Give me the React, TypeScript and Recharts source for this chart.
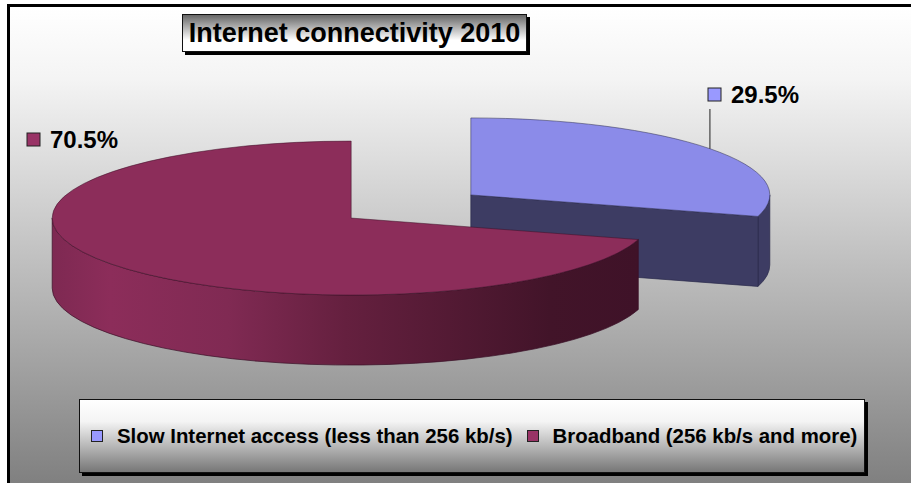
import { PieChart, Pie, Legend } from 'recharts';

const CATEGORIES = ['Slow Internet access (less than 256 kb/s)', 'Broadband (256 kb/s and more)'];
const SHARES = [29.5, 70.5];

const TOP_COLORS = ['#8b8be9', '#8c2d5a'];
const KEY_COLORS = ['#9999ff', '#993366'];
const WALL_FILLS = ['#3d3c63', 'url(#wallShade)'];
const EDGE_COLORS = ['#2a2a4a', '#3a1026'];

const FONT = '"Liberation Sans", Arial, sans-serif';

// pie geometry: a flat disc seen at an angle
const RADIUS = 299;
const TILT = 77 / 299;
const DEPTH = 70;
const EXPLODE = 74.8;

const LABEL_SPOTS = [
  { x: 708, y: 88, leaderFromY: 109 },
  { x: 27, y: 133, leaderFromY: null },
];

const pieData = CATEGORIES.map((name, i) => ({ name, value: SHARES[i], fill: KEY_COLORS[i] }));

const rad = (deg: number) => (deg * Math.PI) / 180;

function explodedCentre(cx: number, cy: number, midAngle: number) {
  return {
    x: cx + EXPLODE * Math.cos(rad(midAngle)),
    y: cy - EXPLODE * Math.sin(rad(midAngle)) * TILT,
  };
}

function rimPoint(c: { x: number; y: number }, angle: number) {
  return {
    x: c.x + RADIUS * Math.cos(rad(angle)),
    y: c.y - RADIUS * TILT * Math.sin(rad(angle)),
  };
}

function Slice(props: any) {
  const { cx, cy, startAngle, endAngle, midAngle, name } = props;
  const i = CATEGORIES.indexOf(name);
  const c = explodedCentre(cx, cy, midAngle);
  const rx = RADIUS;
  const ry = RADIUS * TILT;
  const from = rimPoint(c, startAngle);
  const to = rimPoint(c, endAngle);
  const large = startAngle - endAngle > 180 ? 1 : 0;

  // only the part of the rim that faces the viewer gets a wall
  const wallHi = Math.min(startAngle, 0);
  const wallLo = Math.max(endAngle, -180);
  let wall = null;
  if (wallLo < wallHi) {
    const a = rimPoint(c, wallHi);
    const b = rimPoint(c, wallLo);
    wall =
      `M${a.x},${a.y} A${rx},${ry} 0 0 1 ${b.x},${b.y} ` +
      `L${b.x},${b.y + DEPTH} A${rx},${ry} 0 0 0 ${a.x},${a.y + DEPTH} Z`;
  }

  const showCut = Math.cos(rad(endAngle)) > 1e-6;
  const cut = showCut
    ? `M${c.x},${c.y} L${to.x},${to.y} L${to.x},${to.y + DEPTH} L${c.x},${c.y + DEPTH} Z`
    : null;

  return (
    <g>
      {wall && <path d={wall} fill={WALL_FILLS[i]} stroke={EDGE_COLORS[i]} strokeWidth={0.7} />}
      {cut && <path d={cut} fill={WALL_FILLS[i]} stroke={EDGE_COLORS[i]} strokeWidth={0.7} />}
      <path
        d={`M${c.x},${c.y} L${from.x},${from.y} A${rx},${ry} 0 ${large} 1 ${to.x},${to.y} Z`}
        fill={TOP_COLORS[i]}
        stroke={EDGE_COLORS[i]}
        strokeWidth={0.5}
      />
    </g>
  );
}

function SliceLabel(props: any) {
  const { cx, cy, midAngle, value, index } = props;
  const spot = LABEL_SPOTS[index];
  const rim = rimPoint(explodedCentre(cx, cy, midAngle), midAngle);
  return (
    <g>
      {spot.leaderFromY !== null && (
        <line x1={rim.x} y1={spot.leaderFromY} x2={rim.x} y2={rim.y} stroke="#222" strokeWidth={1} />
      )}
      <rect x={spot.x} y={spot.y} width={13} height={13} fill={KEY_COLORS[index]} stroke="#222" strokeWidth={1} />
      <text
        x={spot.x + 23}
        y={spot.y + 15}
        fontFamily={FONT}
        fontWeight="bold"
        fontSize={24}
        fill="#000"
      >
        {`${value.toFixed(1)}%`}
      </text>
    </g>
  );
}

function LegendBox({ payload }: any) {
  return (
    <div
      style={{
        boxSizing: 'border-box',
        width: 786,
        height: 74,
        border: '1px solid #111',
        boxShadow: '3px 3px 0 #000',
        background: 'linear-gradient(#ffffff 0%, #f4f4f4 30%, #777777 100%)',
        display: 'flex',
        alignItems: 'center',
        paddingLeft: 11,
        fontFamily: FONT,
        fontWeight: 'bold',
        fontSize: 20.4,
        color: '#000',
        whiteSpace: 'nowrap',
      }}
    >
      {(payload ?? []).map((item: any, i: number) => (
        <span key={item.value} style={{ display: 'flex', alignItems: 'center', marginRight: 14 }}>
          <span
            style={{
              boxSizing: 'border-box',
              width: 12,
              height: 12,
              background: KEY_COLORS[i],
              border: '1px solid #222',
              marginRight: 14,
            }}
          />
          {item.value}
        </span>
      ))}
    </div>
  );
}

export default function App() {
  return (
    <div style={{ position: 'absolute', left: 0, top: 0, width: 911, height: 483, background: '#fff', overflow: 'hidden' }}>
      <div
        style={{
          position: 'absolute',
          left: 7,
          top: 4,
          right: 0,
          bottom: 0,
          borderTop: '3px solid #000',
          borderLeft: '3px solid #000',
          background: 'linear-gradient(#ffffff 0%, #f4f4f4 15%, #808080 100%)',
        }}
      />
      <PieChart width={911} height={483} margin={{ top: 0, right: 0, bottom: 0, left: 0 }} style={{ position: 'absolute', left: 0, top: 0 }}>
        <defs>
          <linearGradient id="wallShade" x1="0" y1="0" x2="1" y2="0">
            <stop offset="0%" stopColor="#7e2952" />
            <stop offset="10%" stopColor="#8c2d5a" />
            <stop offset="30%" stopColor="#802a53" />
            <stop offset="50%" stopColor="#65203f" />
            <stop offset="85%" stopColor="#421429" />
            <stop offset="100%" stopColor="#3f1228" />
          </linearGradient>
        </defs>
        <Pie
          data={pieData}
          dataKey="value"
          nameKey="name"
          cx={411}
          cy={206.5}
          outerRadius={RADIUS}
          startAngle={90}
          endAngle={-270}
          paddingAngle={0}
          stroke="none"
          shape={Slice}
          label={SliceLabel}
          labelLine={false}
          isAnimationActive={false}
        />
        <Legend
          content={<LegendBox />}
          itemSorter={null}
          wrapperStyle={{ position: 'absolute', left: 79, top: 399, width: 786, height: 74, bottom: 'auto' }}
        />
      </PieChart>
      <div
        style={{
          position: 'absolute',
          left: 182,
          top: 14,
          boxSizing: 'border-box',
          width: 345,
          height: 38,
          border: '1px solid #111',
          boxShadow: '3px 3px 0 #000',
          background: 'linear-gradient(#666666 0%, #ffffff 70%, #ffffff 100%)',
          fontFamily: FONT,
          fontWeight: 'bold',
          fontSize: 27,
          lineHeight: '36px',
          textAlign: 'center',
          color: '#000',
          whiteSpace: 'nowrap',
        }}
      >
        Internet connectivity 2010
      </div>
    </div>
  );
}
